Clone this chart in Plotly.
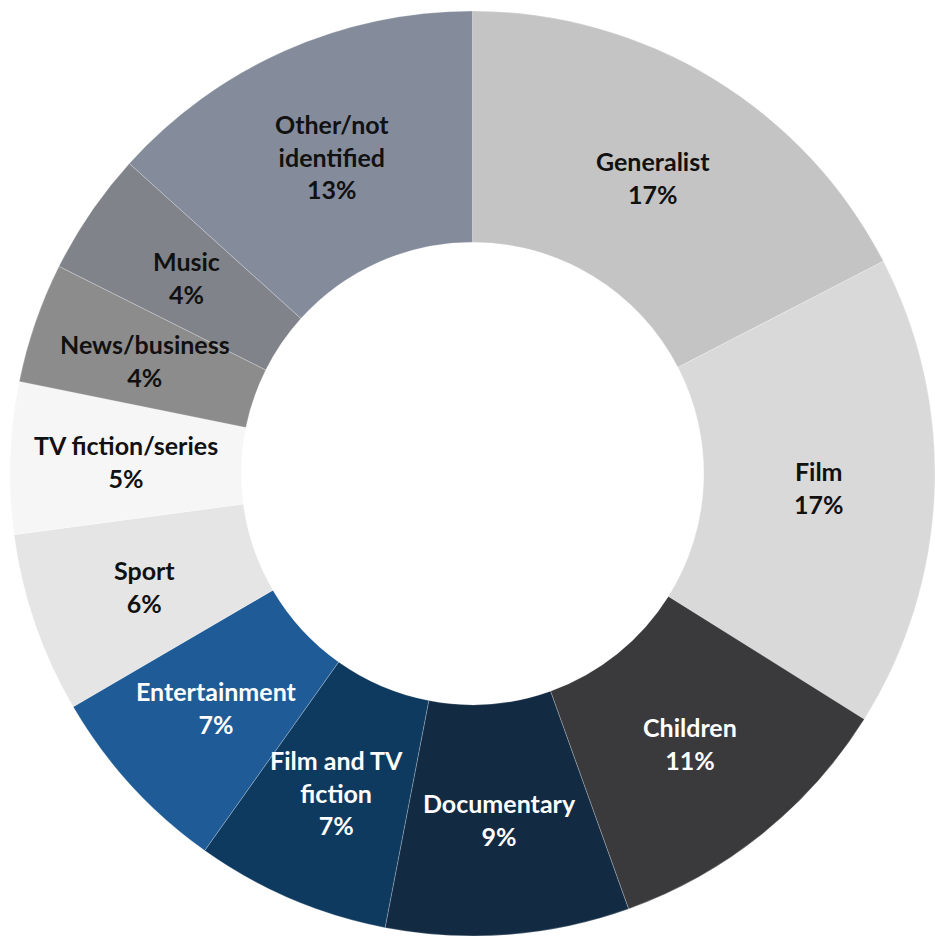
import math
import plotly.graph_objects as go

labels = ["Generalist", "Film", "Children", "Documentary", "Film and TV<br>fiction",
          "Entertainment", "Sport", "TV fiction/series", "News/business", "Music",
          "Other/not<br>identified"]
shares = [17.4, 16.5, 10.6, 8.5, 6.8, 6.75, 6.3, 5.3, 4.2, 4.3, 13.3]
pct_labels = ["17%", "17%", "11%", "9%", "7%", "7%", "6%", "5%", "4%", "4%", "13%"]
colors = ["#c4c4c4", "#d9d9d9", "#3a3a3c", "#122b43", "#0f3a5f", "#1f5b96",
          "#e5e5e5", "#f6f6f6", "#8c8c8c", "#808389", "#848c9c"]
text_colors = ["#111111", "#111111", "#ffffff", "#ffffff", "#ffffff", "#ffffff",
               "#111111", "#111111", "#111111", "#111111", "#111111"]

W, H = 935, 939
ML, MR, MT, MB = 10, 0, 8, 0
HOLE = 0.5

fig = go.Figure(go.Pie(
    labels=labels,
    values=shares,
    hole=HOLE,
    sort=False,
    direction="clockwise",
    rotation=0,
    marker=dict(colors=colors, line=dict(color="rgba(255,255,255,0.4)", width=0.6)),
    textinfo="none",
    showlegend=False,
    hoverinfo="label+percent",
))

# label positions: middle of ring at mid-angle of each slice
pw, ph = W - ML - MR, H - MT - MB
R = min(pw, ph) / 2
r_lab = R * (1 + HOLE) / 2
total = sum(shares)
cum = 0.0
annotations = []
for lab, v, p, tc in zip(labels, shares, pct_labels, text_colors):
    mid = (cum + v / 2) / total * 2 * math.pi
    cum += v
    x = 0.5 + r_lab * math.sin(mid) / pw
    y = 0.5 + r_lab * math.cos(mid) / ph
    annotations.append(dict(
        x=x, y=y, xref="paper", yref="paper",
        text=f"<b>{lab}<br>{p}</b>",
        showarrow=False, xanchor="center", yanchor="middle", align="center",
        font=dict(family="Lato, sans-serif", size=25, color=tc),
    ))

fig.update_layout(
    width=W, height=H,
    margin=dict(l=ML, r=MR, t=MT, b=MB),
    paper_bgcolor="white",
    plot_bgcolor="white",
    annotations=annotations,
)

fig.write_html("out.html")
